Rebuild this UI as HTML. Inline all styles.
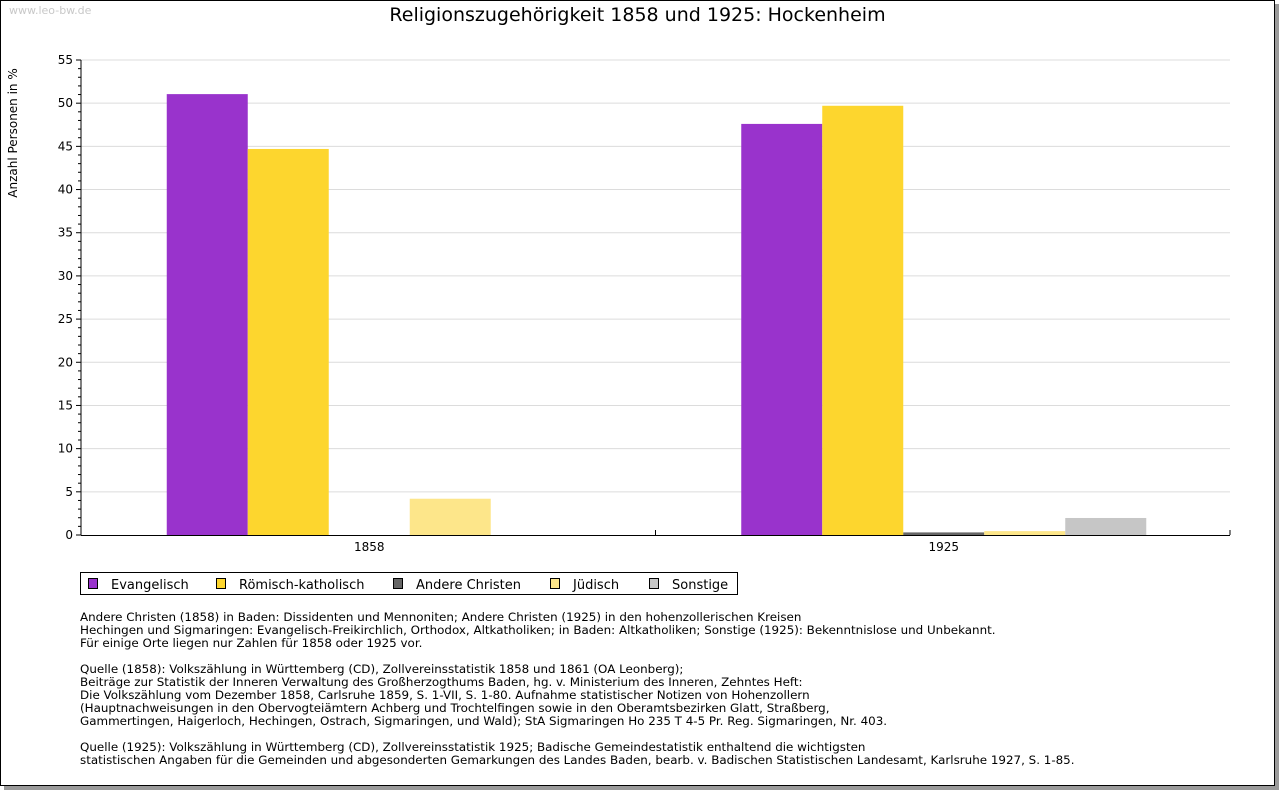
<!DOCTYPE html>
<html><head><meta charset="utf-8"><style>
body{margin:0;background:#fff;}
#frame{position:absolute;left:0;top:0;width:1273px;height:784px;border:1px solid #000;background:#fff;box-shadow:4px 4px 0 #9a9a9a;}
.t{position:absolute;font-family:"DejaVu Sans","Liberation Sans",sans-serif;color:#000;white-space:pre;}
.p{margin:0 0 13px 0;}
</style></head><body>
<div id="frame"></div>
<div class="t" style="left:9px;top:4px;font-size:11px;color:#c8c8c8">www.leo-bw.de</div>
<div class="t" style="left:0;width:1275px;text-align:center;top:4px;font-size:19px;">Religionszugehörigkeit 1858 und 1925: Hockenheim</div>
<svg id="chart" width="1280" height="600" style="position:absolute;left:0;top:0"></svg>
<div style="position:absolute;left:80px;top:572px;width:656px;height:21px;border:1px solid #000;"></div>
<div class="t" style="left:80px;top:611px;font-size:11.9px;line-height:13px"><div class="p">Andere Christen (1858) in Baden: Dissidenten und Mennoniten; Andere Christen (1925) in den hohenzollerischen Kreisen
Hechingen und Sigmaringen: Evangelisch-Freikirchlich, Orthodox, Altkatholiken; in Baden: Altkatholiken; Sonstige (1925): Bekenntnislose und Unbekannt.
Für einige Orte liegen nur Zahlen für 1858 oder 1925 vor.</div><div class="p">Quelle (1858): Volkszählung in Württemberg (CD), Zollvereinsstatistik 1858 und 1861 (OA Leonberg);
Beiträge zur Statistik der Inneren Verwaltung des Großherzogthums Baden, hg. v. Ministerium des Inneren, Zehntes Heft:
Die Volkszählung vom Dezember 1858, Carlsruhe 1859, S. 1-VII, S. 1-80. Aufnahme statistischer Notizen von Hohenzollern
(Hauptnachweisungen in den Obervogteiämtern Achberg und Trochtelfingen sowie in den Oberamtsbezirken Glatt, Straßberg,
Gammertingen, Haigerloch, Hechingen, Ostrach, Sigmaringen, und Wald); StA Sigmaringen Ho 235 T 4-5 Pr. Reg. Sigmaringen, Nr. 403.</div><div class="p">Quelle (1925): Volkszählung in Württemberg (CD), Zollvereinsstatistik 1925; Badische Gemeindestatistik enthaltend die wichtigsten
statistischen Angaben für die Gemeinden und abgesonderten Gemarkungen des Landes Baden, bearb. v. Badischen Statistischen Landesamt, Karlsruhe 1927, S. 1-85.</div></div>
<script>
const categories=["1858","1925"];
const seriesNames=["Evangelisch","Römisch-katholisch","Andere Christen","Jüdisch","Sonstige"];
const seriesColors=["#9933cc","#fdd62e","#666666","#fde68a","#c6c6c6"];
const evangelisch=[51.05,47.6];
const katholisch=[44.7,49.7];
const andereChristen=[0,0.3];
const juedisch=[4.2,0.45];
const sonstige=[0,1.97];
const yTicks=[0,5,10,15,20,25,30,35,40,45,50,55];
const series=[evangelisch,katholisch,andereChristen,juedisch,sonstige];
const svg=document.getElementById('chart');const NS='http://www.w3.org/2000/svg';
const FF='DejaVu Sans,Liberation Sans,sans-serif';
const X0=81,X1=1230,Y0=535,Y1=60,YMAX=55;
const y=v=>Y0-(Y0-Y1)*v/YMAX;
const catW=(X1-X0)/categories.length, barW=81;
function mk(tag,a,name){const e=document.createElementNS(NS,tag);for(const k in a)e.setAttribute(k,a[k]);


svg.appendChild(e);return e;}
yTicks.forEach(t=>{if(t>0)mk('line',{x1:X0,x2:X1,y1:y(t),y2:y(t),stroke:'#dcdcdc'},'gridline');
const tx=mk('text',{x:73,y:y(t)+4,'text-anchor':'end','font-size':12,'font-family':FF},'y-tick-label');tx.textContent=t;
mk('line',{x1:X0-5,x2:X0,y1:y(t),y2:y(t),stroke:'#000'},'y-tick');});
for(let v=1;v<YMAX;v++){if(v%5)mk('line',{x1:X0-3,x2:X0,y1:y(v),y2:y(v),stroke:'#000'},'y-minor-tick');}
categories.forEach((c,i)=>{const cx=X0+catW*(i+0.5);const gx=cx-barW*series.length/2+1;
series.forEach((s,j)=>{const v=s[i];mk('rect',{x:gx+j*barW,y:y(v),width:barW,height:Y0-y(v),fill:seriesColors[j]},'bar-'+c+'-'+j);});
const tx=mk('text',{x:cx+1,y:551,'text-anchor':'middle','font-size':12,'font-family':FF},'x-tick-label');tx.textContent=c;
if(i>0)mk('line',{x1:X0+catW*i,x2:X0+catW*i,y1:Y0-5,y2:Y0,stroke:'#000'},'x-tick');});
mk('line',{x1:X1,x2:X1,y1:Y0-5,y2:Y0,stroke:'#000'},'x-tick');
mk('line',{x1:X0,x2:X0,y1:Y1,y2:Y0,stroke:'#000'},'y-axis');
mk('line',{x1:X0,x2:X1,y1:Y0+0.5,y2:Y0+0.5,stroke:'#000'},'x-axis');
const yt=mk('text',{x:0,y:0,transform:'translate(17,133) rotate(-90)','text-anchor':'middle','font-size':12,'font-family':FF},'y-axis-title');yt.textContent='Anzahl Personen in %';
const lx=[88,216,393,550,649];
seriesNames.forEach((n,j)=>{mk('rect',{x:lx[j]+0.5,y:578.5,width:9,height:10,fill:seriesColors[j],stroke:'#000'},'legend-swatch');
const t=mk('text',{x:lx[j]+23,y:589,'font-size':13,'font-family':FF},'legend-entry');t.textContent=n;});
</script>
</body></html>
